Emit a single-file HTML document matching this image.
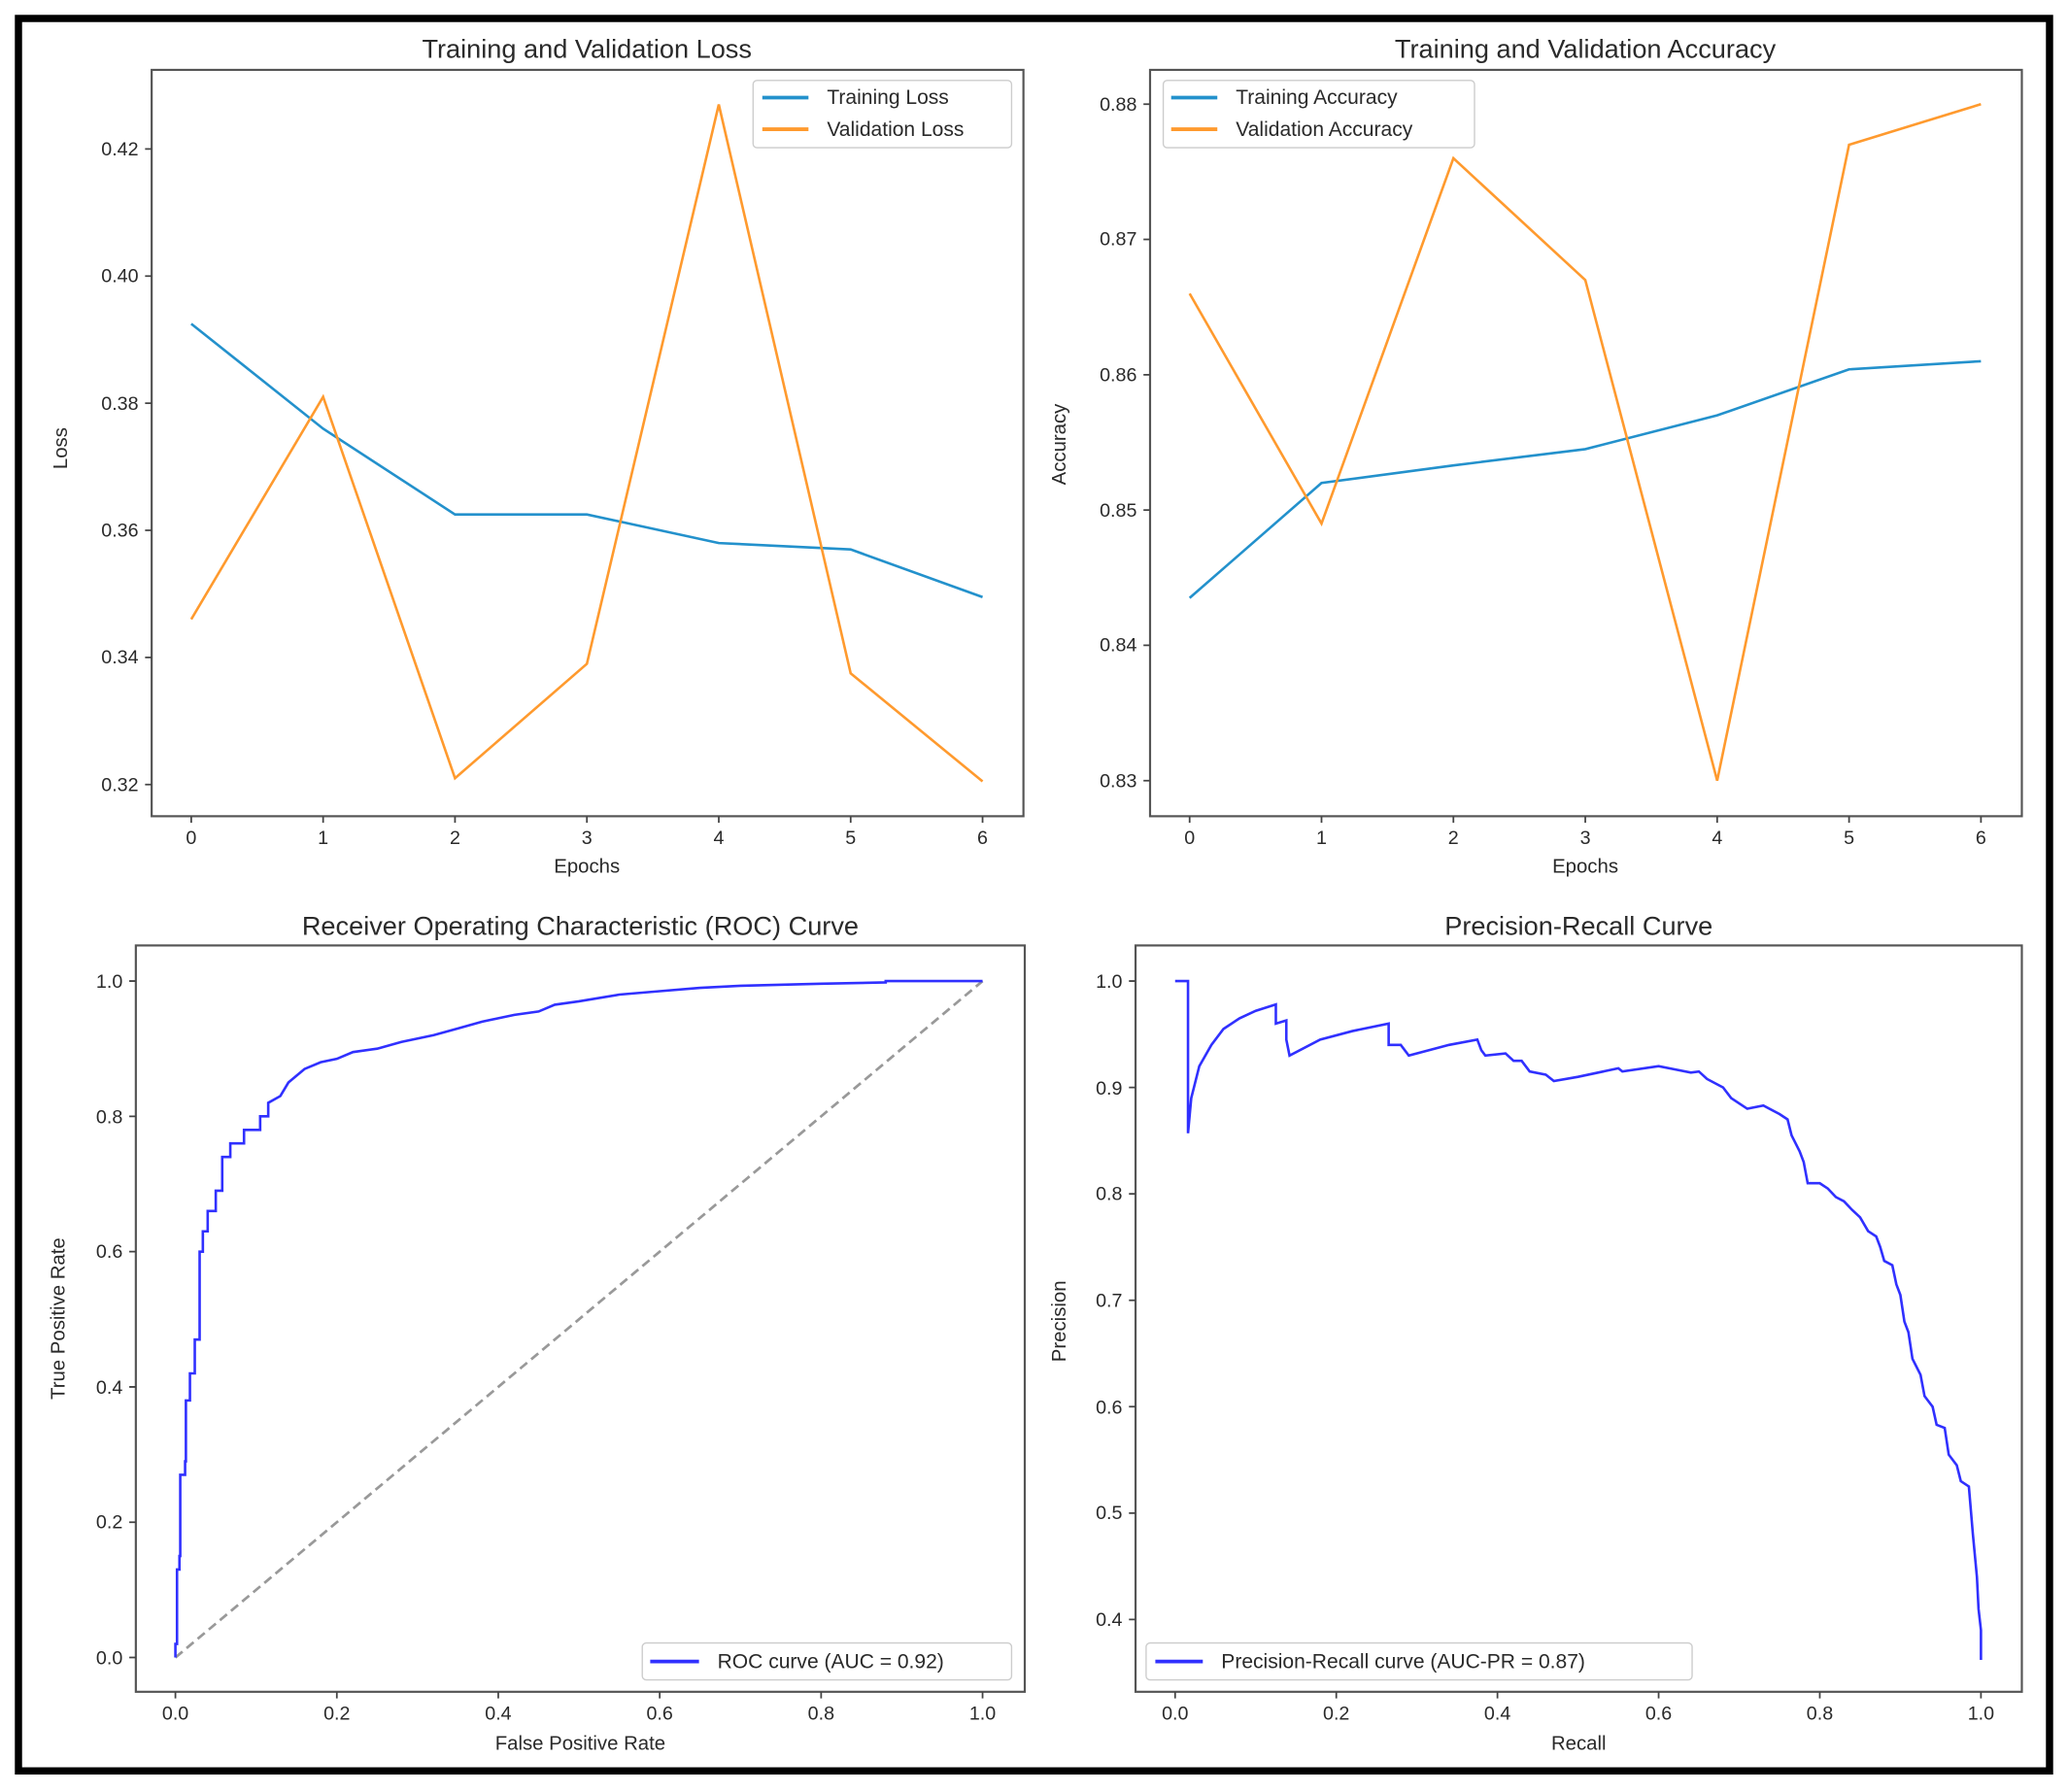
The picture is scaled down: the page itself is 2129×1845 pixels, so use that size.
<!DOCTYPE html>
<html><head><style>html,body{margin:0;padding:0;background:#fff}svg{display:block}text{font-family:"Liberation Sans","DejaVu Sans",sans-serif;fill:#2a2a2a}</style></head>
<body>
<svg width="2129" height="1845" viewBox="0 0 1568 1359" preserveAspectRatio="none" xmlns="http://www.w3.org/2000/svg">
<rect x="14" y="14" width="1540" height="1329" fill="none" stroke="#000" stroke-width="5.5"/>
<g stroke="#555" stroke-width="1.6" fill="none">
<rect x="115" y="53" width="661" height="566"/>
<rect x="872" y="53" width="661" height="566"/>
<rect x="103" y="717" width="674" height="566"/>
<rect x="861" y="717" width="672" height="566"/>
</g>
<g stroke="#444" stroke-width="1.3">
<path d="M145 619v5M245 619v5M345 619v5M445 619v5M545 619v5M645 619v5M745 619v5"/>
<path d="M115 113h-5M115 209.4h-5M115 305.8h-5M115 402.2h-5M115 498.6h-5M115 595h-5"/>
<path d="M902 619v5M1002 619v5M1102 619v5M1202 619v5M1302 619v5M1402 619v5M1502 619v5"/>
<path d="M872 79h-5M872 181.6h-5M872 284.2h-5M872 386.8h-5M872 489.4h-5M872 592h-5"/>
<path d="M133 1283v5M255.4 1283v5M377.8 1283v5M500.2 1283v5M622.6 1283v5M745 1283v5"/>
<path d="M103 744h-5M103 846.6h-5M103 949.2h-5M103 1051.8h-5M103 1154.4h-5M103 1257h-5"/>
<path d="M891 1283v5M1013.2 1283v5M1135.4 1283v5M1257.6 1283v5M1379.8 1283v5M1502 1283v5"/>
<path d="M861 744h-5M861 824.7h-5M861 905.4h-5M861 986.1h-5M861 1066.8h-5M861 1147.5h-5M861 1228.2h-5"/>
</g>
<g font-size="14.5" text-anchor="middle">
<text x="145" y="640">0</text><text x="245" y="640">1</text><text x="345" y="640">2</text><text x="445" y="640">3</text><text x="545" y="640">4</text><text x="645" y="640">5</text><text x="745" y="640">6</text>
<text x="902" y="640">0</text><text x="1002" y="640">1</text><text x="1102" y="640">2</text><text x="1202" y="640">3</text><text x="1302" y="640">4</text><text x="1402" y="640">5</text><text x="1502" y="640">6</text>
<text x="133" y="1304">0.0</text><text x="255.4" y="1304">0.2</text><text x="377.8" y="1304">0.4</text><text x="500.2" y="1304">0.6</text><text x="622.6" y="1304">0.8</text><text x="745" y="1304">1.0</text>
<text x="891" y="1304">0.0</text><text x="1013.2" y="1304">0.2</text><text x="1135.4" y="1304">0.4</text><text x="1257.6" y="1304">0.6</text><text x="1379.8" y="1304">0.8</text><text x="1502" y="1304">1.0</text>
</g>
<g font-size="14.5" text-anchor="end">
<text x="105" y="118">0.42</text><text x="105" y="214">0.40</text><text x="105" y="311">0.38</text><text x="105" y="407">0.36</text><text x="105" y="503">0.34</text><text x="105" y="600">0.32</text>
<text x="862" y="84">0.88</text><text x="862" y="186">0.87</text><text x="862" y="289">0.86</text><text x="862" y="392">0.85</text><text x="862" y="494">0.84</text><text x="862" y="597">0.83</text>
<text x="93" y="749">1.0</text><text x="93" y="852">0.8</text><text x="93" y="954">0.6</text><text x="93" y="1057">0.4</text><text x="93" y="1159">0.2</text><text x="93" y="1262">0.0</text>
<text x="851" y="749">1.0</text><text x="851" y="830">0.9</text><text x="851" y="910">0.8</text><text x="851" y="991">0.7</text><text x="851" y="1072">0.6</text><text x="851" y="1152">0.5</text><text x="851" y="1233">0.4</text>
</g>
<g font-size="20" text-anchor="middle">
<text x="445" y="44">Training and Validation Loss</text>
<text x="1202" y="44">Training and Validation Accuracy</text>
<text x="440" y="709">Receiver Operating Characteristic (ROC) Curve</text>
<text x="1197" y="709">Precision-Recall Curve</text>
</g>
<g font-size="15" text-anchor="middle">
<text x="445" y="662">Epochs</text><text x="1202" y="662">Epochs</text>
<text x="440" y="1327">False Positive Rate</text><text x="1197" y="1327">Recall</text>
<text transform="translate(51,340) rotate(-90)">Loss</text>
<text transform="translate(808,337) rotate(-90)">Accuracy</text>
<text transform="translate(49,1000) rotate(-90)">True Positive Rate</text>
<text transform="translate(808,1002) rotate(-90)">Precision</text>
</g>
<g transform="translate(145,2137.4) scale(100,-4820)" fill="none" stroke-width="2.6">
<polyline vector-effect="non-scaling-stroke" stroke="#2391cc" points="0,0.3925 1,0.376 2,0.3625 3,0.3625 4,0.358 5,0.357 6,0.3495"/>
<polyline vector-effect="non-scaling-stroke" stroke="#ff9a2e" points="0,0.346 1,0.381 2,0.321 3,0.339 4,0.427 5,0.3375 6,0.3205"/>
</g>
<g transform="translate(902,9107.8) scale(100,-10260)" fill="none" stroke-width="2.6">
<polyline vector-effect="non-scaling-stroke" stroke="#2391cc" points="0,0.8435 1,0.852 2,0.8533 3,0.8545 4,0.857 5,0.8604 6,0.861"/>
<polyline vector-effect="non-scaling-stroke" stroke="#ff9a2e" points="0,0.866 1,0.849 2,0.876 3,0.867 4,0.830 5,0.877 6,0.880"/>
</g>
<line x1="133" y1="1257" x2="745" y2="744" stroke="#999" stroke-width="2" stroke-dasharray="7,4"/>
<g transform="translate(133,1257) scale(612,-513)" fill="none" stroke-width="2.6">
<polyline vector-effect="non-scaling-stroke" stroke="#3030ff" points="0,0 0,0.02 0.002,0.02 0.002,0.13 0.005,0.13 0.005,0.15 0.006,0.15 0.006,0.27 0.012,0.27 0.012,0.29 0.013,0.29 0.013,0.38 0.018,0.38 0.018,0.42 0.024,0.42 0.024,0.47 0.03,0.47 0.03,0.6 0.034,0.6 0.034,0.63 0.04,0.63 0.04,0.66 0.05,0.66 0.05,0.69 0.058,0.69 0.058,0.74 0.068,0.74 0.068,0.76 0.085,0.76 0.085,0.78 0.105,0.78 0.105,0.8 0.115,0.8 0.115,0.82 0.13,0.83 0.14,0.85 0.16,0.87 0.18,0.88 0.2,0.885 0.22,0.895 0.25,0.9 0.28,0.91 0.32,0.92 0.35,0.93 0.38,0.94 0.4,0.945 0.42,0.95 0.45,0.955 0.47,0.965 0.5,0.97 0.55,0.98 0.6,0.985 0.65,0.99 0.7,0.993 0.8,0.996 0.88,0.998 0.88,1 1,1"/>
</g>
<g transform="translate(891,1551) scale(611,-807)" fill="none" stroke-width="2.6">
<polyline vector-effect="non-scaling-stroke" stroke="#3030ff" points="0,1 0.016,1 0.016,0.857 0.02,0.89 0.03,0.92 0.045,0.94 0.06,0.955 0.08,0.965 0.1,0.972 0.125,0.978 0.125,0.96 0.138,0.963 0.138,0.945 0.142,0.93 0.18,0.945 0.22,0.953 0.265,0.96 0.265,0.94 0.28,0.94 0.29,0.93 0.34,0.94 0.375,0.945 0.38,0.935 0.385,0.93 0.41,0.932 0.42,0.925 0.43,0.925 0.44,0.915 0.46,0.912 0.47,0.906 0.5,0.91 0.55,0.918 0.555,0.915 0.6,0.92 0.62,0.917 0.64,0.914 0.65,0.915 0.66,0.908 0.68,0.9 0.69,0.89 0.7,0.885 0.71,0.88 0.73,0.883 0.75,0.875 0.76,0.87 0.765,0.855 0.775,0.84 0.78,0.83 0.785,0.81 0.8,0.81 0.81,0.805 0.82,0.797 0.83,0.793 0.84,0.785 0.85,0.778 0.86,0.765 0.87,0.76 0.875,0.75 0.88,0.737 0.89,0.733 0.895,0.715 0.9,0.705 0.905,0.68 0.91,0.67 0.915,0.645 0.925,0.63 0.93,0.61 0.94,0.6 0.945,0.583 0.955,0.58 0.96,0.555 0.97,0.545 0.975,0.53 0.985,0.525 0.99,0.48 0.995,0.44 0.997,0.41 1,0.39 1,0.362"/>
</g>
<g stroke="#ccc" stroke-width="1" fill="#fff">
<rect x="571" y="61" width="196" height="51" rx="3"/>
<rect x="882" y="61" width="236" height="51" rx="3"/>
<rect x="487" y="1246" width="280" height="28" rx="3"/>
<rect x="869" y="1246" width="414" height="28" rx="3"/>
</g>
<g stroke-width="2.8">
<line x1="578" y1="74" x2="613" y2="74" stroke="#2391cc"/>
<line x1="578" y1="98" x2="613" y2="98" stroke="#ff9a2e"/>
<line x1="888" y1="74" x2="923" y2="74" stroke="#2391cc"/>
<line x1="888" y1="98" x2="923" y2="98" stroke="#ff9a2e"/>
<line x1="493" y1="1260" x2="530" y2="1260" stroke="#3030ff"/>
<line x1="876" y1="1260" x2="912" y2="1260" stroke="#3030ff"/>
</g>
<g font-size="15.5">
<text x="627" y="79">Training Loss</text>
<text x="627" y="103">Validation Loss</text>
<text x="937" y="79">Training Accuracy</text>
<text x="937" y="103">Validation Accuracy</text>
<text x="544" y="1265">ROC curve (AUC = 0.92)</text>
<text x="926" y="1265">Precision-Recall curve (AUC-PR = 0.87)</text>
</g>
</svg>
</body></html>
